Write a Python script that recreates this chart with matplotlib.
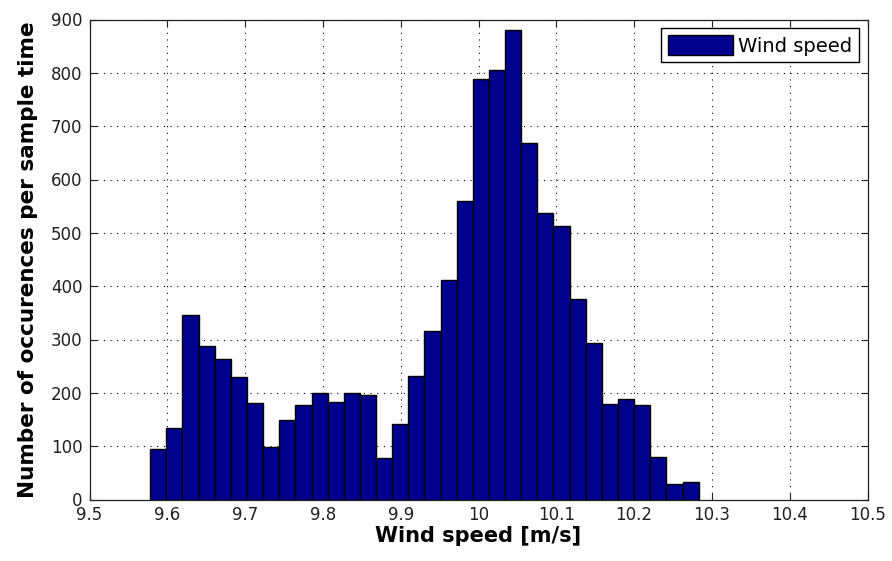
import numpy as np
import matplotlib
matplotlib.use("Agg")
import matplotlib.pyplot as plt

# histogram of wind speed samples
bin_lo = 9.578
bin_hi = 10.283
counts = [95, 135, 346, 288, 264, 229, 181, 99, 150, 177,
          200, 183, 200, 196, 78, 141, 231, 316, 412, 559,
          788, 806, 880, 668, 538, 513, 376, 294, 179, 188,
          177, 80, 29, 33]

x_ticks = [9.5, 9.6, 9.7, 9.8, 9.9, 10, 10.1, 10.2, 10.3, 10.4, 10.5]
x_ticklabels = ["9.5", "9.6", "9.7", "9.8", "9.9", "10", "10.1", "10.2", "10.3", "10.4", "10.5"]
y_ticks = [0, 100, 200, 300, 400, 500, 600, 700, 800, 900]

edges = np.linspace(bin_lo, bin_hi, len(counts) + 1)

plt.rcParams['font.family'] = ['DejaVu Sans']

fig = plt.figure(figsize=(8.92, 5.61), dpi=100)
ax = fig.add_axes([89.5 / 892, 1 - 499.5 / 561, 778 / 892, 480 / 561])

ax.bar(edges[:-1], counts, width=np.diff(edges), align='edge',
       color='#00008F', edgecolor='black', linewidth=1.0, label='Wind speed', zorder=3)

ax.set_xlim(9.5, 10.5)
ax.set_ylim(0, 900)
ax.set_xticks(x_ticks)
ax.set_xticklabels(x_ticklabels)
ax.set_yticks(y_ticks)

ax.grid(True, color='black', linestyle=(0, (1, 5)), linewidth=0.8, zorder=0)
ax.set_axisbelow(True)
ax.tick_params(direction='in', length=5, width=0.8, top=True, right=True,
               labelsize=12, colors='#202020', pad=5)
for s in ax.spines.values():
    s.set_linewidth(0.9)
    s.set_color('#202020')

ax.set_xlabel("Wind speed [m/s]", fontsize=15, fontweight='bold', labelpad=1)
ax.set_ylabel("Number of occurences per sample time", fontsize=15.5, fontweight='bold', labelpad=9)

leg = ax.legend(loc='upper right', fontsize=14, fancybox=False, framealpha=1,
                edgecolor='black', handlelength=3.35, handleheight=1.2,
                handletextpad=0.25, borderpad=0.35, borderaxespad=0.45)
leg.get_frame().set_linewidth(1.0)
leg.set_zorder(5)

fig.savefig("out.png", dpi=100)
